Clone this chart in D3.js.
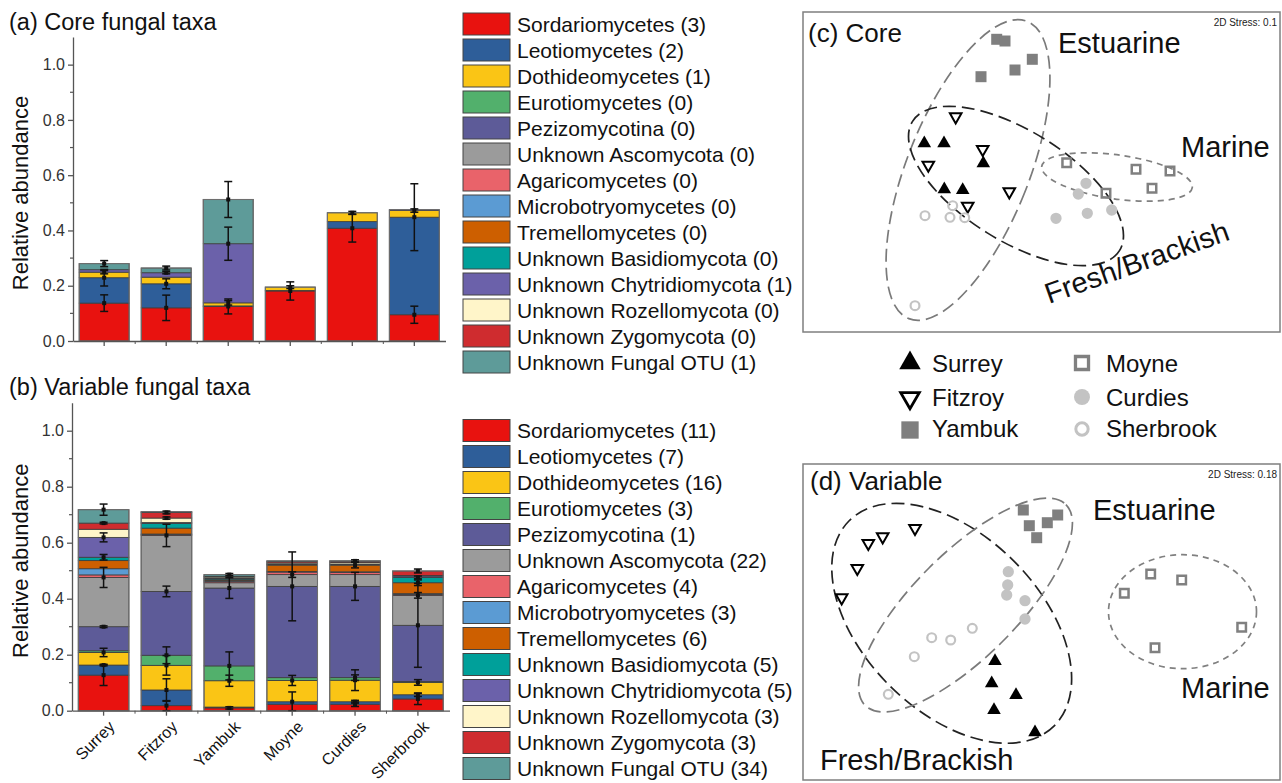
<!DOCTYPE html>
<html><head><meta charset="utf-8">
<script src="https://cdn.jsdelivr.net/npm/d3@7"></script>
<style>body{margin:0;background:#fff}svg{display:block}text{font-family:"Liberation Sans",Arial,sans-serif}</style>
</head><body><svg id="c" width="1282" height="783"></svg>
<script>
// ---------------- DATA ----------------
const sites = ["Surrey","Fitzroy","Yambuk","Moyne","Curdies","Sherbrook"];
const taxa = ["Sordariomycetes","Leotiomycetes","Dothideomycetes","Eurotiomycetes","Pezizomycotina","Unknown Ascomycota","Agaricomycetes","Microbotryomycetes","Tremellomycetes","Unknown Basidiomycota","Unknown Chytridiomycota","Unknown Rozellomycota","Unknown Zygomycota","Unknown Fungal OTU"];
const coreCounts = [3,2,1,0,0,0,0,0,0,0,1,0,0,1];
const varCounts = [11,7,16,3,1,22,4,3,6,5,5,3,3,34];
const taxaColors = ["#e8120f","#2e5e99","#fac515","#52b06c","#5d5b98","#9b9b9b","#e9636a","#5b9bd3","#cd5f00","#00a09a","#6b61aa","#fff5c9","#cf2c2f","#5e9b99"];
const yTicks = [0,0.2,0.4,0.6,0.8,1.0];

// core taxa: one row per site, one value per taxon (stacked bottom-up)
const coreValues = [
  [0.137,0.092,0.020,0,0,0,0,0,0,0,0.009,0,0,0.022],
  [0.120,0.087,0.024,0,0,0,0,0,0,0,0.016,0,0,0.017],
  [0.125,0.002,0.011,0,0,0,0,0,0,0,0.214,0,0,0.160],
  [0.181,0.002,0.012,0,0,0,0,0,0,0,0,0,0,0],
  [0.408,0.024,0.032,0,0,0,0,0,0,0,0,0,0,0],
  [0.095,0.353,0.024,0,0,0,0,0,0,0,0.003,0,0,0]
];
const coreErrors = [
  [0.030,0.030,0.006,0,0,0,0,0,0,0,0,0,0,0.011],
  [0.046,0.018,0,0,0,0,0,0,0,0,0.004,0,0,0.007],
  [0.027,0,0.008,0,0,0,0,0,0,0,0.060,0,0,0.065],
  [0.033,0,0.005,0,0,0,0,0,0,0,0,0,0,0],
  [0.050,0,0.005,0,0,0,0,0,0,0,0,0,0,0],
  [0.031,0.121,0.006,0,0,0,0,0,0,0,0,0,0,0]
];
// variable taxa
const varValues = [
  [0.127,0.036,0.045,0.006,0.086,0.176,0.009,0.022,0.029,0.012,0.071,0.029,0.022,0.048],
  [0.018,0.056,0.088,0.036,0.228,0.200,0.003,0.002,0.021,0.017,0.003,0.016,0.020,0.003],
  [0.010,0.003,0.094,0.053,0.278,0.019,0.005,0.003,0.003,0.004,0.002,0.004,0.002,0.006],
  [0.023,0.009,0.076,0.010,0.326,0.042,0.009,0.002,0.023,0.002,0.002,0.004,0.005,0.002],
  [0.023,0.009,0.077,0.009,0.326,0.042,0.008,0.002,0.024,0.002,0.002,0.005,0.005,0.001],
  [0.042,0.015,0.044,0.003,0.201,0.107,0.003,0.003,0.039,0.019,0.005,0.002,0.016,0]
];
const varErrors = [
  [0.037,0.003,0.015,0,0.003,0.036,0,0,0,0.010,0.016,0,0.003,0.020],
  [0.018,0.040,0.035,0.030,0.019,0.040,0,0,0,0,0,0.004,0.005,0],
  [0.004,0,0.020,0.050,0.037,0,0,0,0,0,0,0,0,0.004],
  [0,0.035,0.018,0,0.123,0.010,0,0,0,0,0,0,0,0],
  [0.008,0.005,0.037,0.010,0.050,0,0,0,0.010,0,0,0,0,0.004],
  [0.020,0.006,0.010,0,0.150,0.010,0,0,0.010,0.005,0,0,0.007,0]
];

// NMDS ordinations (arbitrary NMDS units), one list of points per site in site order
const coreNMDS = [
  [[1.213,1.887],[1.410,1.887],[1.803,1.687],[1.413,1.427],[1.597,1.420]],
  [[1.527,2.153],[1.797,1.827],[1.253,1.670],[2.063,1.403],[1.647,1.260]],
  [[1.937,2.927],[2.020,2.910],[2.293,2.727],[2.120,2.620],[1.780,2.553]],
  [[2.637,1.693],[3.330,1.627],[3.670,1.610],[3.490,1.437],[3.030,1.387]],
  [[2.830,1.487],[2.753,1.380],[2.843,1.187],[3.087,1.220],[2.530,1.137]],
  [[1.497,1.263],[1.220,1.163],[1.470,1.147],[1.617,1.143],[1.120,0.263]]
];
const varNMDS = [
  [[1.920,1.190],[1.887,0.967],[2.130,0.850],[1.910,0.700],[2.320,0.477]],
  [[1.120,2.517],[0.797,2.433],[0.653,2.367],[0.543,2.117],[0.387,1.823]],
  [[2.203,2.700],[2.263,2.543],[2.337,2.423],[2.443,2.573],[2.547,2.650]],
  [[3.477,2.060],[3.787,2.000],[3.213,1.867],[4.387,1.527],[3.520,1.323]],
  [[2.053,2.083],[2.047,1.950],[2.037,1.850],[2.220,1.793],[2.220,1.610]],
  [[1.693,1.517],[1.477,1.400],[1.287,1.423],[1.113,1.233],[0.853,0.857]]
];
// group ellipses: [group, centreX, centreY, radiusX, radiusY, rotation°]
const coreGroups = [
  ["Estuarine",1.65,1.62,0.61,1.60,21.7],
  ["Fresh/Brackish",2.13,1.46,1.22,0.55,32],
  ["Marine",3.14,1.55,0.76,0.22,8]
];
const varGroups = [
  ["Fresh/Brackish",1.487,1.567,1.45,0.88,45],
  ["Estuarine",1.625,1.75,1.42,0.52,-45],
  ["Marine",3.795,1.683,0.74,0.57,0]
];

// ---------------- DRAWING ----------------
const svg = d3.select("#c");
const color = d3.scaleOrdinal().domain(taxa).range(taxaColors);

function barPanel(cfg){
  const x = d3.scaleBand().domain(sites).range(cfg.xr).paddingInner(0.195).paddingOuter(0.1);
  const y = d3.scaleLinear().domain([0,1.1]).range(cfg.yr);
  const g = svg.append("g");
  g.append("text").attr("x",9).attr("y",cfg.titleY).attr("font-size",23.5).attr("fill","#111").text(cfg.title);
  g.append("text").attr("transform",`translate(28,${(y(0)+y(1.1))/2+4}) rotate(-90)`)
    .attr("text-anchor","middle").attr("font-size",22).attr("fill","#111").text("Relative abundance");
  cfg.values.forEach((row,i)=>{
    let cum=0;
    row.forEach((v,j)=>{
      if(v<=0) return;
      g.append("rect").attr("x",x(sites[i])).attr("width",x.bandwidth())
        .attr("y",y(cum+v)).attr("height",y(cum)-y(cum+v))
        .attr("fill",color(taxa[j])).attr("stroke","#3c3c3c").attr("stroke-width",0.8);
      cum+=v;
    });
    g.append("rect").attr("x",x(sites[i])).attr("width",x.bandwidth())
      .attr("y",y(cum)).attr("height",y(0)-y(cum)).attr("fill","none").attr("stroke","#6e6e6e").attr("stroke-width",1.1);
  });
  cfg.values.forEach((row,i)=>{
    let cum=0;
    const cx = x(sites[i])+x.bandwidth()/2;
    row.forEach((v,j)=>{
      cum+=v;
      const e = cfg.errors[i][j];
      if(v<=0||e<=0) return;
      const lo=Math.max(0,cum-e), hi=cum+e;
      g.append("line").attr("x1",cx).attr("x2",cx).attr("y1",y(lo)).attr("y2",y(hi)).attr("stroke","#111").attr("stroke-width",1.5);
      [lo,hi].forEach(t=>g.append("line").attr("x1",cx-4).attr("x2",cx+4).attr("y1",y(t)).attr("y2",y(t)).attr("stroke","#111").attr("stroke-width",1.5));
      g.append("rect").attr("x",cx-2).attr("y",y(cum)-2).attr("width",4).attr("height",4).attr("fill","#111");
    });
  });
  const ya = g.append("g").attr("transform",`translate(${cfg.xr[0]},0)`)
    .call(d3.axisLeft(y).tickValues(yTicks).tickFormat(d3.format(".1f")).tickSize(5).tickSizeOuter(0));
  ya.selectAll("text").attr("font-size",16).attr("fill","#333").attr("font-family","Liberation Sans, Arial, sans-serif");
  ya.selectAll("line,path").attr("stroke","#555").attr("stroke-width",1.3);
  [0.1,0.3,0.5,0.7,0.9].forEach(t=>g.append("line").attr("x1",cfg.xr[0]-3).attr("x2",cfg.xr[0]).attr("y1",y(t)).attr("y2",y(t)).attr("stroke","#555").attr("stroke-width",1.2));
  const xa = g.append("g").attr("transform",`translate(0,${y(0)})`)
    .call(d3.axisBottom(x).tickSize(5).tickSizeOuter(0));
  xa.selectAll("line,path").attr("stroke","#555").attr("stroke-width",1.3);
  for(let k=1;k<sites.length;k++){
    const bx = x(sites[k]) - x.step()*x.paddingInner()/2;
    g.append("line").attr("x1",bx).attr("x2",bx).attr("y1",y(0)).attr("y2",y(0)+3).attr("stroke","#555").attr("stroke-width",1);
  }
  if(cfg.labels){
    xa.selectAll("text").attr("font-size",16).attr("fill","#111").attr("font-family","Liberation Sans, Arial, sans-serif")
      .attr("y",0).attr("dy",0).attr("text-anchor","end").attr("transform","translate(12,17) rotate(-45)");
  } else xa.selectAll("text").remove();
  const lg = g.append("g");
  taxa.forEach((t,j)=>{
    const cy = cfg.legY + j*26;
    lg.append("rect").attr("x",463).attr("y",cy-11).attr("width",47).attr("height",22)
      .attr("fill",color(t)).attr("stroke","#444").attr("stroke-width",1);
    lg.append("text").attr("x",517).attr("y",cy+7.5).attr("font-size",21).attr("fill","#111")
      .text(`${t} (${cfg.counts[j]})`);
  });
}

barPanel({title:"(a) Core fungal taxa",titleY:30,xr:[73,445.5],yr:[341,37],values:coreValues,errors:coreErrors,counts:coreCounts,legY:24,labels:false});
barPanel({title:"(b) Variable fungal taxa",titleY:395,xr:[72,449.5],yr:[710.7,402.7],values:varValues,errors:varErrors,counts:varCounts,legY:430.5,labels:true});

const markerStyle = {
  Surrey:{type:d3.symbolTriangle,rot:0,fill:"#000",stroke:"none",sw:0,size:80},
  Fitzroy:{type:d3.symbolTriangle,rot:180,fill:"none",stroke:"#000",sw:2,size:58},
  Yambuk:{type:d3.symbolSquare,rot:0,fill:"#7f7f7f",stroke:"none",sw:0,size:121},
  Moyne:{type:d3.symbolSquare,rot:0,fill:"none",stroke:"#808080",sw:2.5,size:72},
  Curdies:{type:d3.symbolCircle,rot:0,fill:"#c3c3c3",stroke:"none",sw:0,size:100},
  Sherbrook:{type:d3.symbolCircle,rot:0,fill:"none",stroke:"#c3c3c3",sw:2.2,size:62}
};
const groupStyle = {
  "Estuarine":{stroke:"#7a7a7a",dash:"13,6"},
  "Fresh/Brackish":{stroke:"#222",dash:"13,6"},
  "Marine":{stroke:"#808080",dash:"6,5"}
};

function nmdsPanel(cfg){
  const x = d3.scaleLinear().domain([0,4.77]).range([803,1280]);
  const y = d3.scaleLinear().domain([0,cfg.yMax]).range(cfg.yr);
  const g = svg.append("g");
  g.append("rect").attr("x",803).attr("y",cfg.yr[1]).attr("width",477).attr("height",cfg.yr[0]-cfg.yr[1])
    .attr("fill","#fff").attr("stroke","#7f7f7f").attr("stroke-width",1.5);
  cfg.groups.forEach(([name,cx,cy,rx,ry,rot])=>{
    const px=x(cx), py=y(cy);
    g.append("ellipse").attr("cx",px).attr("cy",py).attr("rx",x(cx+rx)-px).attr("ry",py-y(cy+ry))
      .attr("transform",`rotate(${rot},${px},${py})`).attr("fill","none")
      .attr("stroke",groupStyle[name].stroke).attr("stroke-width",1.7).attr("stroke-dasharray",groupStyle[name].dash);
  });
  cfg.points.forEach((pts,i)=>{
    const s = markerStyle[sites[i]];
    pts.forEach(([a,b])=>{
      g.append("path").attr("d",d3.symbol().type(s.type).size(s.size)())
        .attr("transform",`translate(${x(a)},${y(b)}) rotate(${s.rot})`)
        .attr("fill",s.fill).attr("stroke",s.stroke).attr("stroke-width",s.sw);
    });
  });
  g.append("text").attr("x",cfg.tx).attr("y",cfg.ty).attr("font-size",26).attr("fill","#111").text(cfg.title);
  g.append("text").attr("x",1277).attr("y",cfg.sy).attr("text-anchor","end").attr("font-size",10).attr("fill","#222").text(cfg.stress);
  cfg.labels.forEach(([t,lx,ly,rot])=>{
    g.append("text").attr("transform",`translate(${lx},${ly}) rotate(${rot})`).attr("font-size",29).attr("fill","#111").text(t);
  });
}

nmdsPanel({yMax:3.2,yr:[332,12],groups:coreGroups,points:coreNMDS,title:"(c) Core",tx:808,ty:42,stress:"2D Stress: 0.1",sy:26,
  labels:[["Estuarine",1058,52.5,0],["Marine",1181,156.5,0],["Fresh/Brackish",1049,304,-19.5]]});
nmdsPanel({yMax:3.16,yr:[780,464],groups:varGroups,points:varNMDS,title:"(d) Variable",tx:810,ty:490,stress:"2D Stress: 0.18",sy:478,
  labels:[["Estuarine",1093,520,0],["Marine",1181,698,0],["Fresh/Brackish",820,770,0]]});

const legendPos = [[910,363,932,372],[910,398,932,406],[910,430,932,437],[1082,363,1106,372],[1082,397,1106,406],[1082,429,1106,437]];
const legendSize = {Surrey:200,Fitzroy:150,Yambuk:300,Moyne:170,Curdies:200,Sherbrook:120};
sites.forEach((s,i)=>{
  const st = markerStyle[s], p = legendPos[i];
  svg.append("path").attr("d",d3.symbol().type(st.type).size(legendSize[s])())
    .attr("transform",`translate(${p[0]},${p[1]}) rotate(${st.rot})`)
    .attr("fill",st.fill).attr("stroke",st.stroke).attr("stroke-width",st.sw? st.sw+0.8:0);
  svg.append("text").attr("x",p[2]).attr("y",p[3]).attr("font-size",24).attr("fill","#111").text(s);
});
</script></body></html>
